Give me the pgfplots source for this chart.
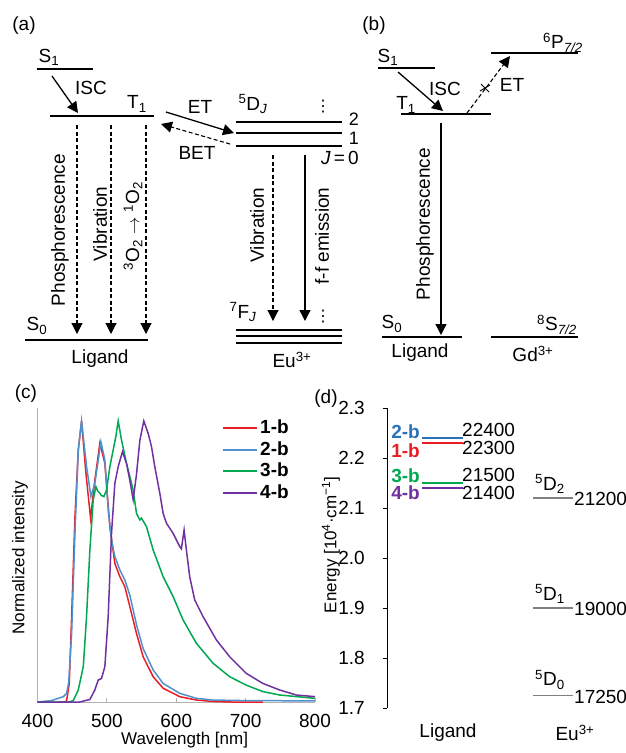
\documentclass[border=0pt]{standalone}
\usepackage{fontspec}
\setmainfont{Liberation Sans}
\newfontfamily\dejavu{DejaVu Sans}
\usepackage{pgfplots}
\pgfplotsset{compat=1.18}
\usetikzlibrary{arrows.meta}

\definecolor{cred}{RGB}{232,30,36}
\definecolor{cblue}{RGB}{80,145,205}
\definecolor{cbluelab}{RGB}{40,115,185}
\definecolor{cgreen}{RGB}{0,168,80}
\definecolor{cpurple}{RGB}{112,48,160}

\begin{document}
\fontsize{19}{22}\selectfont
\begin{tikzpicture}[font=\fontsize{19}{22}\selectfont,
  arr/.style={-{Triangle[length=11pt,width=11pt]}},
  lvl/.style={black, line width=1.3pt},
  dsh/.style={dash pattern=on 4pt off 2.5pt}]

% ---- panels (a) and (b): energy diagrams, drawn in a hidden pixel-sized axis
\begin{axis}[at={(0pt,0pt)}, anchor=north west, scale only axis,
  width=626pt, height=753pt, xmin=0, xmax=626, ymin=0, ymax=753,
  y dir=reverse, hide axis, clip=false]
% (a) ligand levels
\addplot[lvl] coordinates {(37,69) (93,69)};
\addplot[lvl] coordinates {(50,116) (154,116)};
\addplot[lvl] coordinates {(25,340) (148,340)};
\addplot[lvl, arr] coordinates {(52,76) (78,113)};
\addplot[lvl, line width=1.1pt, dsh, arr] coordinates {(77,125) (77,334)};
\addplot[lvl, line width=1.1pt, dsh, arr] coordinates {(111,125) (111,334)};
\addplot[lvl, line width=1.1pt, dsh, arr] coordinates {(146,125) (146,334)};
% (a) Eu levels
\addplot[lvl, line width=1.1pt] coordinates {(236,122) (342,122)};
\addplot[lvl, line width=1.1pt] coordinates {(236,133) (342,133)};
\addplot[lvl, line width=1.1pt] coordinates {(236,146) (342,146)};
\addplot[lvl, line width=1.1pt] coordinates {(236,330) (342,330)};
\addplot[lvl, line width=1.1pt] coordinates {(236,336) (342,336)};
\addplot[lvl, line width=1.1pt] coordinates {(236,343) (342,343)};
\addplot[lvl, arr] coordinates {(166,112) (234,133)};
\addplot[lvl, line width=1.1pt, dsh, arr] coordinates {(230,144) (161,124)};
\addplot[lvl, line width=1.1pt, dsh, arr] coordinates {(273,155) (273,321)};
\addplot[lvl, arr] coordinates {(305,155) (305,321)};

\node at (axis cs:24,26) {(a)};
\node at (axis cs:49,57) {S\textsubscript{1}};
\node at (axis cs:91,88) {ISC};
\node at (axis cs:137,104) {T\textsubscript{1}};
\node[rotate=90] at (axis cs:60,230) {Phosphorescence};
\node[rotate=90] at (axis cs:100,224) {Vibration};
\node[rotate=90] at (axis cs:133,226) {\textsuperscript{3}O\textsubscript{2} $\rightarrow$ \textsuperscript{1}O\textsubscript{2}};
\node at (axis cs:37,326) {S\textsubscript{0}};
\node at (axis cs:100,359) {Ligand};
\node at (axis cs:200,107) {ET};
\node at (axis cs:197,153) {BET};
\node at (axis cs:253,104) {\textsuperscript{5}D\textsubscript{\textit{J}}};
\node[inner sep=0pt, font=\dejavu\fontsize{16}{18}\selectfont] at (axis cs:323,107) {⋮};
\node[inner sep=0pt, font=\fontsize{18}{20}\selectfont] at (axis cs:354,119) {2};
\node[inner sep=0pt, font=\fontsize{18}{20}\selectfont] at (axis cs:354,138) {1};
\node at (axis cs:340,158) {\textit{J}\,=\,0};
\node[rotate=90] at (axis cs:257,225) {Vibration};
\node[rotate=90] at (axis cs:322,236) {f-f emission};
\node at (axis cs:243,312) {\textsuperscript{7}F\textsubscript{\textit{J}}};
\node[inner sep=0pt, font=\dejavu\fontsize{16}{18}\selectfont] at (axis cs:323,317) {⋮};
\node at (axis cs:292,360) {Eu\textsuperscript{3+}};

% (b) Gd complex
\addplot[lvl] coordinates {(491,53) (578,53)};
\addplot[lvl] coordinates {(378,68) (435,68)};
\addplot[lvl] coordinates {(401,114) (491,114)};
\addplot[lvl] coordinates {(382,337) (462,337)};
\addplot[lvl] coordinates {(491,337) (578,337)};
\addplot[lvl, arr] coordinates {(398,72) (443,111)};
\addplot[lvl, line width=1.1pt, dsh, arr] coordinates {(467,113) (510,56)};
\addplot[lvl, line width=1pt] coordinates {(481,84) (489,92)};
\addplot[lvl, line width=1pt] coordinates {(480,91) (490,85)};
\addplot[lvl, arr] coordinates {(441,123) (441,335)};

\node at (axis cs:374,26) {(b)};
\node at (axis cs:563,43) {\textsuperscript{6}P\textsubscript{\textit{7/2}}};
\node at (axis cs:388,57) {S\textsubscript{1}};
\node at (axis cs:445,89) {ISC};
\node at (axis cs:406,105) {T\textsubscript{1}};
\node at (axis cs:512,85) {ET};
\node[rotate=90] at (axis cs:425,224) {Phosphorescence};
\node at (axis cs:392,324) {S\textsubscript{0}};
\node at (axis cs:557,325) {\textsuperscript{8}S\textsubscript{\textit{7/2}}};
\node at (axis cs:420,353) {Ligand};
\node at (axis cs:533,354) {Gd\textsuperscript{3+}};

\node at (axis cs:26,394) {(c)};
\node at (axis cs:326,399) {(d)};
\end{axis}

% ---- panel (c): emission spectra
\begin{axis}[at={(37.5pt,-702pt)}, anchor=south west, scale only axis,
  width=277.5pt, height=294pt,
  xmin=400, xmax=800, ymin=0, ymax=1.046,
  axis x line=bottom, axis y line=left,
  axis line style={gray!60, line width=0.9pt, -},
  xtick={400,500,600,700,800}, ytick=\empty,
  tick align=inside, major tick length=4pt,
  x tick style={gray!60, line width=0.9pt},
  /pgf/number format/assume math mode=true,
  xticklabel style={anchor=center, inner sep=1pt, yshift=-19pt},
  legend style={at={(0.665,0.968)}, anchor=north west, draw=none, fill=none,
    font=\bfseries\fontsize{19}{20}\selectfont, row sep=1pt, inner sep=0pt,
    /tikz/every even column/.append style={column sep=9pt}},
  legend cell align=left,
  legend image code/.code={\draw[#1, line width=2pt] (0pt,0pt) -- (34pt,0pt);},
  clip=false]
\addplot[cred, line width=1.5pt] coordinates {
 (430,0) (440,0) (442,0.005) (445.8,0.066) (449.2,0.304) (454,0.66) (458.8,0.897)
 (463.5,1.0) (469.8,0.814) (476.5,0.654) (482.7,0.79) (489.9,0.921) (497.1,0.849)
 (504.3,0.624) (511.5,0.493) (518.7,0.446) (525.9,0.41) (533.1,0.339) (542.7,0.244)
 (552.3,0.161) (566.7,0.09) (581.1,0.049) (605,0.019) (629,0.007) (653,0.002)
 (680,0) (725,0)};
\addlegendentry{1-b}
\addplot[cblue, line width=1.5pt] coordinates {
 (400,0) (420,0.005) (437.2,0.019) (442,0.031) (445,0.07) (449.2,0.244) (454,0.6)
 (458.8,0.897) (463.5,1.0) (470.7,0.838) (477,0.731) (482.7,0.778) (491.4,0.926)
 (497.1,0.861) (501.9,0.683) (506.7,0.577) (511.5,0.517) (518.7,0.47) (525.9,0.434)
 (533.1,0.38) (542.7,0.275) (552.3,0.19) (566.7,0.114) (581.1,0.066) (605,0.031)
 (629,0.013) (653,0.007) (700,0.005) (800,0.004)};
\addlegendentry{2-b}
\addplot[cgreen, line width=1.5pt] coordinates {
 (400,0) (445,0) (451.6,0.005) (458.8,0.043) (466,0.126) (470.7,0.304) (475.5,0.541)
 (480.3,0.719) (484.2,0.766) (487,0.75) (489.9,0.743) (492,0.735) (495.7,0.731)
 (499.5,0.754) (504.3,0.837) (509.1,0.897) (512.9,0.944) (516.3,1.0) (521.1,0.932)
 (528.3,0.849) (533.1,0.802) (537.9,0.754) (542.7,0.671) (547.5,0.648) (549.9,0.654)
 (557.1,0.624) (566.7,0.541) (581.1,0.446) (595.5,0.375) (609.8,0.292) (629,0.209)
 (653,0.138) (677,0.09) (700.9,0.06) (724.9,0.037) (748.9,0.025) (800,0.013)};
\addlegendentry{3-b}
\addplot[cpurple, line width=1.5pt] coordinates {
 (400,0) (461,0) (475.5,0.009) (482.7,0.043) (487.5,0.078) (492.3,0.084) (497.1,0.126)
 (501.9,0.304) (506.7,0.6) (511.5,0.778) (516.3,0.837) (522.5,0.891) (528.3,0.849)
 (533,0.79) (537.9,0.72) (542.7,0.81) (547.5,0.93) (553.2,1.0) (559.5,0.956)
 (564.3,0.909) (569.1,0.837) (576.3,0.743) (581.1,0.671) (585.9,0.636) (595.5,0.6)
 (605,0.553) (607.4,0.545) (611.3,0.612) (614.6,0.541) (619.4,0.446) (626.6,0.363)
 (638.6,0.304) (657.8,0.221) (677,0.161) (700.9,0.102) (724.9,0.066) (748.9,0.043)
 (772.9,0.025) (800,0.019)};
\addlegendentry{4-b}
\node[inner sep=1pt, font=\fontsize{17}{20}\selectfont] at (axis description cs:0.53,-0.129) {Wavelength [nm]};
\node[rotate=90, font=\fontsize{17}{20}\selectfont] at (axis description cs:-0.063,0.49) {Normalized intensity};
\end{axis}

% ---- panel (d): energy levels
\begin{axis}[at={(387pt,-708pt)}, anchor=south west, scale only axis,
  width=239pt, height=300pt,
  xmin=387, xmax=626, ymin=1.7, ymax=2.3,
  axis x line=none, axis y line=left,
  axis line style={black, line width=0.9pt, -},
  ytick={1.7,1.8,1.9,2.0,2.1,2.2,2.3},
  tick align=outside, major tick length=4pt,
  y tick style={black, line width=0.9pt},
  /pgf/number format/assume math mode=true,
  yticklabel style={/pgf/number format/.cd, fixed, fixed zerofill, precision=1,
    /tikz/.cd, anchor=center, xshift=-31.5pt},
  clip=false]
\addplot[cbluelab, line width=1.5pt] coordinates {(422,2.24) (463,2.24)};
\addplot[cred, line width=1.5pt] coordinates {(422,2.23) (463,2.23)};
\addplot[cgreen, line width=1.5pt] coordinates {(422,2.15) (463,2.15)};
\addplot[cpurple, line width=1.5pt] coordinates {(422,2.14) (463,2.14)};
\addplot[gray, line width=1.2pt] coordinates {(533,2.12) (573,2.12)};
\addplot[gray, line width=1.2pt] coordinates {(533,1.90) (573,1.90)};
\addplot[gray, line width=1.2pt] coordinates {(533,1.725) (573,1.725)};

\node[anchor=east, inner sep=0pt, text=cbluelab, font=\bfseries\fontsize{19}{22}\selectfont] at (axis cs:420,2.252) {2-b};
\node[anchor=east, inner sep=0pt, text=cred, font=\bfseries\fontsize{19}{22}\selectfont] at (axis cs:420,2.214) {1-b};
\node[anchor=east, inner sep=0pt, text=cgreen, font=\bfseries\fontsize{19}{22}\selectfont] at (axis cs:420,2.165) {3-b};
\node[anchor=east, inner sep=0pt, text=cpurple, font=\bfseries\fontsize{19}{22}\selectfont] at (axis cs:420,2.130) {4-b};
\node[anchor=west, inner sep=0pt] at (axis cs:462,2.256) {22400};
\node[anchor=west, inner sep=0pt] at (axis cs:462,2.220) {22300};
\node[anchor=west, inner sep=0pt] at (axis cs:462,2.166) {21500};
\node[anchor=west, inner sep=0pt] at (axis cs:462,2.130) {21400};
\node at (axis cs:550,2.148) {\textsuperscript{5}D\textsubscript{2}};
\node at (axis cs:550,1.928) {\textsuperscript{5}D\textsubscript{1}};
\node at (axis cs:550,1.756) {\textsuperscript{5}D\textsubscript{0}};
\node[anchor=west, inner sep=0pt] at (axis cs:574,2.118) {21200};
\node[anchor=west, inner sep=0pt] at (axis cs:574,1.898) {19000};
\node[anchor=west, inner sep=0pt] at (axis cs:574,1.723) {17250};
\node at (axis cs:448,1.65) {Ligand};
\node at (axis cs:575,1.65) {Eu\textsuperscript{3+}};
\node[rotate=90, font=\fontsize{17}{20}\selectfont] at (axis cs:331,2.026) {Energy [10\textsuperscript{4}·cm\textsuperscript{−1}]};
\end{axis}

\pgfresetboundingbox
\path[use as bounding box] (0pt,0pt) rectangle (626pt,-753pt);
\end{tikzpicture}
\end{document}
